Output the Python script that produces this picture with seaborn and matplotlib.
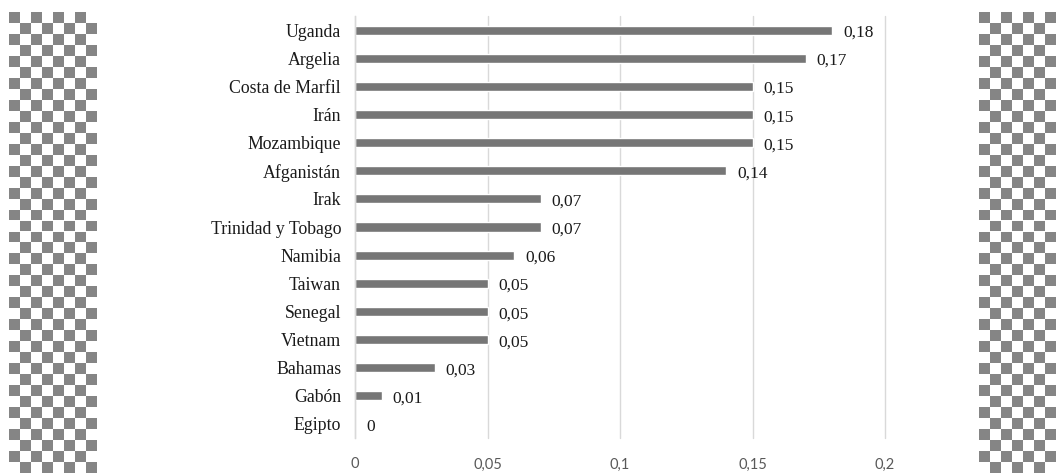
import numpy as np
import pandas as pd
import matplotlib
matplotlib.use("Agg")
import matplotlib.pyplot as plt
import seaborn as sns

countries = ["Uganda", "Argelia", "Costa de Marfil", "Irán", "Mozambique",
             "Afganistán", "Irak", "Trinidad y Tobago", "Namibia", "Taiwan",
             "Senegal", "Vietnam", "Bahamas", "Gabón", "Egipto"]
values = [0.18, 0.17, 0.15, 0.15, 0.15, 0.14, 0.07, 0.07, 0.06, 0.05,
          0.05, 0.05, 0.03, 0.01, 0.0]
xticks = [0, 0.05, 0.1, 0.15, 0.2]
xtick_labels = ["0", "0,05", "0,1", "0,15", "0,2"]

df = pd.DataFrame({"pais": countries, "valor": values})

sns.set_style("white")
W, H = 1056, 473
fig = plt.figure(figsize=(W / 100, H / 100), dpi=100)
fig.patch.set_facecolor("white")

# transparency-checkerboard strips on both sides
def checker(x0, x1, y_top, cols, rows):
    cax = fig.add_axes([x0 / W, 0, (x1 - x0) / W, (H - y_top) / H])
    arr = (np.add.outer(np.arange(rows), np.arange(cols)) % 2).astype(float)
    cax.imshow(arr, cmap=matplotlib.colors.ListedColormap(["#858585", "#ffffff"]),
               aspect="auto", interpolation="bilinear")
    cax.set_axis_off()

checker(9, 97, 12, 8, 42)
checker(979, 1056, 12, 7, 42)

ax = fig.add_axes([355 / W, (H - 438) / H, (885 - 355) / W, (438 - 16) / H])
sns.barplot(data=df, y="pais", x="valor", order=countries, color="#767676",
            width=0.32, saturation=1, ax=ax, orient="h")

ax.set_xlim(0, 0.2)
ax.set_ylim(len(countries) - 0.5, -0.5)
ax.set_xticks(xticks)
ax.set_xticklabels(xtick_labels, family="Lato", fontsize=10.5, color="#595959")
ax.xaxis.grid(True, color="#d9d9d9", linewidth=1)
for gl in ax.get_xgridlines():
    gl.set_clip_on(False)
ax.set_axisbelow(True)
ax.set_xlabel("")
ax.set_ylabel("")
for s in ["top", "right", "bottom"]:
    ax.spines[s].set_visible(False)
ax.spines["left"].set_color("#d9d9d9")
ax.spines["left"].set_linewidth(1)
ax.tick_params(axis="x", length=0, pad=14)
ax.tick_params(axis="y", length=0, pad=10)
for lab in ax.get_yticklabels():
    lab.set_family("Liberation Serif")
    lab.set_fontsize(12.8)
    lab.set_color("#1a1a1a")

def fmt(v):
    s = f"{v:.2f}".rstrip("0").rstrip(".")
    return s.replace(".", ",")

anns = ax.bar_label(ax.containers[0], labels=[fmt(v) for v in values], padding=8,
                    family="Liberation Serif", fontsize=12.5, color="#1a1a1a")
for a in anns:
    a.xyann = (8, -2)

fig.savefig("out.png", dpi=100, facecolor="white")
